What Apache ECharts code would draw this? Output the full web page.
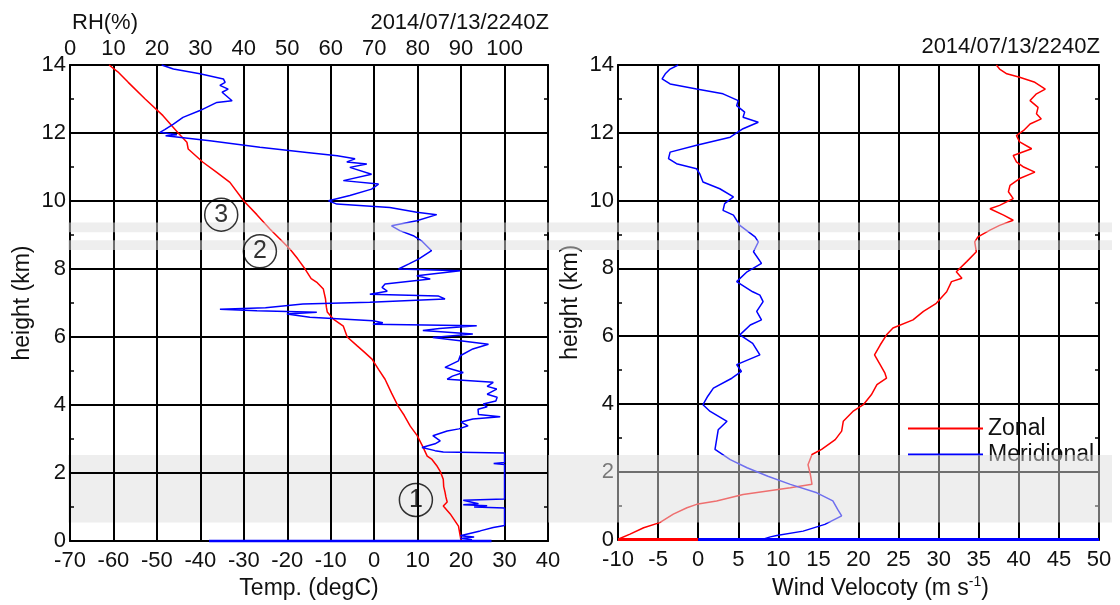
<!DOCTYPE html>
<html>
<head>
<meta charset="utf-8">
<script src="https://cdn.jsdelivr.net/npm/echarts@6/dist/echarts.min.js"></script>
<style>
  html, body { margin: 0; padding: 0; background: #fff; }
  #chart { width: 1120px; height: 605px; }
</style>
</head>
<body>
<div id="chart"></div>
<script>
// ---- sounding profiles: [value, height (km)], ordered from the ground up ----
const tempProfile = [
  [20.0,0.0],[19.8,0.15],[19.4,0.44],[17.5,0.8],[15.9,1.03],[16.8,1.15],[16.5,1.3],[16.3,1.44],
  [16.0,1.6],[15.9,1.82],[15.2,2.05],[14.5,2.2],[13.3,2.4],[12.2,2.5],[11.1,2.8],[9.9,3.1],
  [8.3,3.38],[6.9,3.7],[5.5,3.97],[4.0,4.35],[2.5,4.76],[1.0,5.05],[-0.5,5.35],[-2.2,5.55],
  [-3.9,5.74],[-6.2,6.0],[-7.1,6.32],[-9.4,6.53],[-10.8,6.74],[-11.0,6.88],[-11.2,7.12],
  [-11.7,7.41],[-13.1,7.6],[-14.5,7.72],[-15.9,8.0],[-17.6,8.3],[-19.4,8.59],[-21.8,8.9],
  [-24.0,9.18],[-27.0,9.6],[-30.0,10.0],[-33.2,10.55],[-36.3,10.85],[-39.4,11.14],[-42.8,11.53],
  [-43.1,11.73],[-45.1,12.0],[-48.6,12.51],[-52.7,13.0],[-56.6,13.49],[-59.0,13.8],[-61.0,14.0]
];

const rhProfile = [
  [90.5,0.0],[92.5,0.04],[89.8,0.08],[93,0.12],[89.8,0.16],[94.4,0.3],[97.4,0.4],[100,0.46],
  [100,0.97],[93,1.0],[96,1.04],[90.5,1.07],[94,1.1],[90.5,1.2],[100,1.24],[100,2.25],[97.5,2.28],
  [100,2.31],[100,2.59],[85.9,2.62],[84,2.66],[81,2.75],[81.2,2.8],[84,2.86],[85.2,2.95],
  [83.5,3.1],[86.8,3.24],[89.5,3.3],[91.6,3.39],[90,3.5],[92.7,3.59],[99,3.66],[94,3.72],
  [93.9,3.88],[96,3.95],[95.1,4.03],[98,4.12],[98.3,4.23],[96,4.32],[98.2,4.47],[96,4.55],
  [97.4,4.67],[86.8,4.76],[88,4.85],[90.5,4.96],[86.3,5.11],[89.4,5.3],[89.8,5.45],[92.7,5.65],
  [96.3,5.79],[89.8,5.89],[83.5,5.99],[92.7,6.09],[81.2,6.19],[85,6.25],[93.6,6.33],[69.7,6.38],
  [72,6.42],[69.7,6.48],[55.2,6.58],[49.9,6.68],[56.8,6.73],[43,6.77],[34.5,6.82],[45,6.86],
  [53.6,6.97],[69,7.02],[86.3,7.12],[84.7,7.21],[69,7.26],[73,7.35],[71.8,7.46],[72.5,7.56],
  [82.9,7.71],[79.8,7.8],[89.8,7.95],[75.6,8.0],[78,8.15],[80.2,8.29],[83.2,8.54],[80.9,8.83],
  [79,8.98],[75.9,9.13],[74,9.27],[79.8,9.42],[84.4,9.6],[79.8,9.67],[73.6,9.81],[61.4,9.91],
  [59.5,10.01],[64.4,10.16],[69.4,10.35],[71,10.5],[62.9,10.6],[69.4,10.79],[64.4,10.99],
  [68.3,11.09],[63.7,11.15],[65.6,11.24],[61.5,11.33],[54.5,11.43],[43.7,11.58],[32.2,11.77],
  [22,11.92],[24.6,11.95],[20.7,12.02],[21.8,12.1],[23.8,12.26],[26,12.46],[29.9,12.66],
  [33.8,12.9],[37.3,12.95],[35,13.2],[36.4,13.29],[34.5,13.4],[35.7,13.49],[35.3,13.59],
  [29.9,13.74],[23.8,13.88],[21.1,14.0]
];
const rhSurface = [[32,0],[97,0]];

const zonalProfile = [
  [-10,0.01],[-8.5,0.16],[-6.8,0.35],[-4.8,0.5],[-3.1,0.75],[-1.4,0.94],[-0.2,1.04],[2.3,1.14],
  [5.6,1.33],[11.5,1.53],[14.2,1.63],[14.0,1.92],[13.7,2.21],[14.2,2.51],[15.4,2.66],[17.1,2.95],
  [17.9,3.2],[18.1,3.49],[19.3,3.78],[20.6,3.98],[21.6,4.27],[22.3,4.57],[23.5,4.76],[23.3,4.91],
  [22.7,5.16],[22.0,5.45],[22.7,5.74],[23.5,6.04],[24.3,6.24],[26.8,6.48],[28.1,6.73],[29.7,6.97],
  [31.0,7.31],[31.6,7.61],[32.9,7.71],[32.2,7.9],[33.5,8.2],[34.7,8.49],[34.5,8.78],[34.9,8.93],
  [36.4,9.13],[37.6,9.27],[39.3,9.42],[38.1,9.57],[36.4,9.76],[37.6,9.86],[39.3,10.06],[38.7,10.26],
  [38.9,10.45],[40.1,10.65],[42.0,10.84],[40.6,10.99],[39.7,11.14],[39.3,11.33],[41.6,11.53],
  [40.1,11.73],[39.7,11.92],[40.6,12.07],[41.4,12.26],[42.8,12.41],[42.2,12.56],[42.4,12.75],
  [41.4,12.95],[42.2,13.15],[43.3,13.29],[42.0,13.49],[40.1,13.64],[38.5,13.74],[37.6,13.88],[37.2,14.0]
];
const meridProfile = [
  [8.1,0.01],[9.0,0.08],[9.8,0.12],[13.1,0.25],[15.8,0.45],[17.9,0.7],[17.4,0.89],[16.8,1.14],
  [14.8,1.38],[11.5,1.63],[8.7,1.87],[6.1,2.12],[4.0,2.36],[2.1,2.66],[2.3,2.95],[2.5,3.24],
  [3.6,3.49],[1.5,3.78],[0.6,3.98],[1.2,4.23],[1.9,4.47],[4.2,4.76],[5.4,4.96],[4.8,5.16],
  [7.7,5.45],[6.8,5.79],[5.2,6.04],[6.5,6.33],[7.9,6.48],[7.3,6.73],[8.1,7.02],[7.7,7.21],
  [6.8,7.31],[4.8,7.61],[6.1,7.9],[7.9,8.15],[6.9,8.49],[7.5,8.78],[7.1,8.93],[5.2,9.27],
  [4.4,9.57],[3.1,9.71],[3.3,9.91],[4.4,10.11],[2.7,10.35],[0.6,10.55],[0.2,10.79],[-0.2,10.94],
  [-2.7,11.09],[-3.7,11.24],[-3.5,11.43],[-0.2,11.63],[4.0,11.87],[5.6,12.12],[7.5,12.31],
  [5.6,12.46],[5.8,12.61],[4.8,12.8],[5.0,12.95],[3.1,13.15],[-0.2,13.29],[-3.5,13.44],
  [-4.5,13.59],[-4.1,13.74],[-3.5,13.88],[-2.5,14.0]
];
const zonalSurface = [[-10,0],[0,0]];
const meridSurface = [[0,0],[50,0]];

// numbered layer markers on the temperature panel: [temp, height, label]
const layerMarks = [[9.6,1.21,'1'],[-26.3,8.52,'2'],[-35.2,9.6,'3']];

// highlighted height layers [bottom, top] (km); the lowest one sits behind the temperature panel
const lowLayer = [0.55, 2.53];
const upperLayers = [[8.56, 8.85], [9.08, 9.37]];

const timeStamp = '2014/07/13/2240Z';

const FONT = "'Liberation Sans', Arial, sans-serif";
const TXT = '#111';
const RED = '#ff0000';
const BLUE = '#0000ff';
const BAND = 'rgba(222,222,222,0.5)';
const GRID_LINE = { color: '#000', width: 2 };

function yAxisPair(gridIndex) {
  const common = {
    gridIndex, type: 'value', min: 0, max: 14, interval: 2,
    axisLine: { show: true, onZero: false, lineStyle: { color: '#000', width: 2 } },
    axisTick: { show: true, inside: true, length: 4, lineStyle: { color: '#000', width: 1.5 } },
    minorTick: { show: true, splitNumber: 2, length: 4, lineStyle: { color: '#000', width: 1.5 } }
  };
  return [
    Object.assign({}, common, {
      position: 'left',
      name: 'height (km)', nameLocation: 'middle', nameGap: 36, nameRotate: 90,
      nameTextStyle: { fontFamily: FONT, fontSize: 23, color: TXT },
      axisLabel: { show: true, fontFamily: FONT, fontSize: 22, color: TXT, margin: 4 },
      splitLine: { show: true, lineStyle: GRID_LINE }
    }),
    Object.assign({}, common, {
      position: 'right',
      axisLabel: { show: false },
      splitLine: { show: false }
    })
  ];
}

const titleStyle = { fontFamily: FONT, fontSize: 22, fontWeight: 'normal', color: TXT };

const chart = echarts.init(document.getElementById('chart'), null, { renderer: 'canvas' });

const option = {
  animation: false,
  backgroundColor: '#fff',
  textStyle: { fontFamily: FONT },
  title: [
    { text: 'RH(%)', left: 72, top: 12, padding: 0, textStyle: titleStyle },
    { text: timeStamp, right: 1120 - 549, top: 12, padding: 0, textStyle: titleStyle },
    { text: timeStamp, right: 20, top: 36, padding: 0, textStyle: titleStyle }
  ],
  grid: [
    { left: 70, top: 65, width: 478, height: 477 },
    { left: 618, top: 65, width: 481, height: 477 }
  ],
  legend: {
    data: ['Zonal', 'Meridional'],
    orient: 'vertical', left: 903, top: 412,
    icon: 'rect', itemWidth: 75, itemHeight: 2, itemGap: 3,
    textStyle: { fontFamily: FONT, fontSize: 23, color: TXT, lineHeight: 23 },
    selectedMode: false
  },
  xAxis: [
    {
      gridIndex: 0, type: 'value', position: 'bottom', min: -70, max: 40, interval: 10,
      name: 'Temp. (degC)', nameLocation: 'middle', nameGap: 22,
      nameTextStyle: { fontFamily: FONT, fontSize: 23, color: TXT },
      axisLine: { show: true, onZero: false, lineStyle: { color: '#000', width: 2 } },
      axisTick: { show: false },
      axisLabel: { fontFamily: FONT, fontSize: 22, color: TXT, margin: 9 },
      splitLine: { show: true, lineStyle: GRID_LINE }
    },
    {
      gridIndex: 0, type: 'value', position: 'top', min: 0, max: 110, interval: 10,
      axisLine: { show: true, onZero: false, lineStyle: { color: '#000', width: 2 } },
      axisTick: { show: false },
      axisLabel: { fontFamily: FONT, fontSize: 22, color: TXT, margin: 5,
        formatter: v => (v > 100 ? '' : String(v)) },
      splitLine: { show: false }
    },
    {
      gridIndex: 1, type: 'value', position: 'bottom', min: -10, max: 50, interval: 5,
      name: 'Wind Velocoty (m s{sup|-1})', nameLocation: 'middle', nameGap: 31,
      nameTextStyle: { fontFamily: FONT, fontSize: 23, color: TXT, padding: [0, 0, 0, 44],
        rich: { sup: { fontFamily: FONT, fontSize: 14, color: TXT, verticalAlign: 'top', padding: [0, 0, 12, 0] } } },
      axisLine: { show: true, onZero: false, lineStyle: { color: '#000', width: 2 } },
      axisTick: { show: false },
      axisLabel: { fontFamily: FONT, fontSize: 22, color: TXT, margin: 9 },
      splitLine: { show: true, lineStyle: GRID_LINE }
    },
    {
      gridIndex: 1, type: 'value', position: 'top', min: -10, max: 50, interval: 5,
      axisLine: { show: true, onZero: false, lineStyle: { color: '#000', width: 2 } },
      axisTick: { show: false },
      axisLabel: { show: false },
      splitLine: { show: false }
    }
  ],
  yAxis: [].concat(yAxisPair(0), yAxisPair(1)),
  series: [
    { name: 'Temp', type: 'line', xAxisIndex: 0, yAxisIndex: 0, data: tempProfile,
      showSymbol: false, clip: false, lineStyle: { color: RED, width: 1.5 }, itemStyle: { color: RED }, z: 3 },
    { name: 'RH', type: 'line', xAxisIndex: 1, yAxisIndex: 0, data: rhProfile,
      showSymbol: false, clip: false, lineStyle: { color: BLUE, width: 1.5 }, itemStyle: { color: BLUE }, z: 3 },
    { name: 'RH surface', type: 'line', xAxisIndex: 1, yAxisIndex: 0, data: rhSurface,
      showSymbol: false, clip: false, lineStyle: { color: BLUE, width: 2.5 }, z: 4 },
    { name: 'Zonal', type: 'line', xAxisIndex: 2, yAxisIndex: 2, data: zonalProfile,
      showSymbol: false, clip: false, lineStyle: { color: RED, width: 1.5 }, itemStyle: { color: RED }, z: 3 },
    { name: 'Meridional', type: 'line', xAxisIndex: 2, yAxisIndex: 2, data: meridProfile,
      showSymbol: false, clip: false, lineStyle: { color: BLUE, width: 1.5 }, itemStyle: { color: BLUE }, z: 3 },
    { name: 'Zonal surface', type: 'line', xAxisIndex: 2, yAxisIndex: 2, data: zonalSurface,
      showSymbol: false, clip: false, lineStyle: { color: RED, width: 3 }, z: 4 },
    { name: 'Meridional surface', type: 'line', xAxisIndex: 2, yAxisIndex: 2, data: meridSurface,
      showSymbol: false, clip: false, lineStyle: { color: BLUE, width: 3 }, z: 4 },
    // layer numbers stay above the translucent bands
    { name: 'Layers', type: 'scatter', xAxisIndex: 0, yAxisIndex: 0, data: layerMarks,
      symbol: 'circle', symbolSize: 33, z: 120,
      itemStyle: { color: 'rgba(255,255,255,0)', borderColor: '#000', borderWidth: 1.5 },
      label: { show: true, position: 'inside', formatter: p => p.value[2],
        fontFamily: FONT, fontSize: 25, color: '#000' } }
  ]
};

chart.setOption(option);

// translucent layer bands: the lowest sits under the temperature panel and over
// the wind panel; the two upper ones lie over both panels
const px = (axis, v) => chart.convertToPixel(axis, v);
const xStart = px({ xAxisIndex: 0 }, -70) - 2;
const xSplit = px({ xAxisIndex: 0 }, 40);
const xEnd = px({ xAxisIndex: 2 }, 50) + 13;
function bandRect(lo, hi, x0, x1, z) {
  const yTop = px({ yAxisIndex: 0 }, hi);
  const yBot = px({ yAxisIndex: 0 }, lo);
  return {
    type: 'rect', silent: true, z,
    shape: { x: x0, y: yTop, width: x1 - x0, height: yBot - yTop },
    style: { fill: BAND }
  };
}
chart.setOption({
  graphic: [
    bandRect(lowLayer[0], lowLayer[1], xStart, xSplit, -1),
    bandRect(lowLayer[0], lowLayer[1], xSplit, xEnd, 100)
  ].concat(upperLayers.map(([lo, hi]) => bandRect(lo, hi, xStart, xEnd, 100)))
});
</script>
</body>
</html>
